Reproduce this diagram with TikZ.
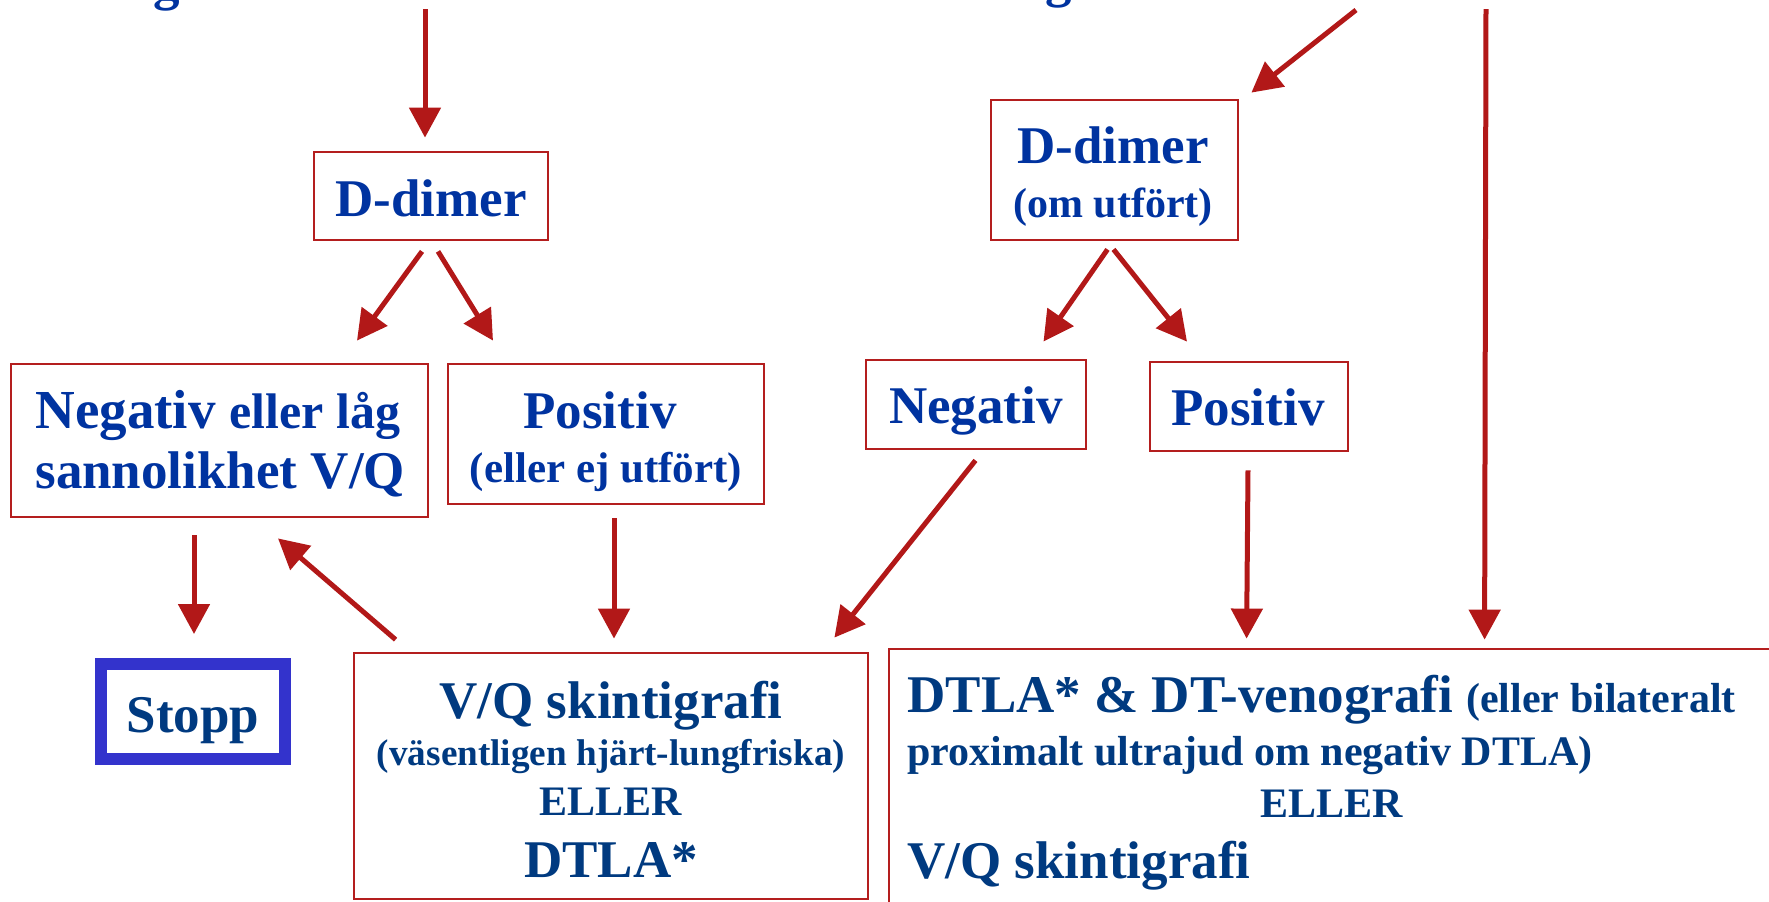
\documentclass[tikz,border=0pt]{standalone}
\usepackage{fontspec}
\setmainfont{Liberation Serif}
\usetikzlibrary{arrows.meta,fit}
\definecolor{ared}{RGB}{178,24,24}
\definecolor{bred}{RGB}{180,30,30}
\definecolor{tblue}{RGB}{0,51,160}
\definecolor{tnavy}{RGB}{0,58,128}
\definecolor{sblue}{RGB}{51,51,204}
\newcommand\fsz[1]{\fontsize{#1}{#1}\selectfont}
\begin{document}
\begin{tikzpicture}[x=0.5pt,y=-0.5pt,
  rbox/.style={draw=bred,line width=1.4pt,inner sep=0pt},
  sbox/.style={draw=sblue,line width=6pt,inner sep=0pt},
  arr/.style={draw=ared,line width=2.5pt,-{Triangle[length=15pt,width=15.5pt]}},
  tx/.style={inner sep=0pt,anchor=base,text=tblue,font=\bfseries\fsz{26.5}},
  tn/.style={inner sep=0pt,anchor=base,text=tnavy,font=\bfseries\fsz{26.5}},
]
\useasboundingbox (0,0) rectangle (1769,901);
\clip (0,0) rectangle (1769,901);

% cut-off text fragments at the top
\node[tx] (g1) at (167,-1) {g};
\node[tx] (g2) at (1059,-4) {g};

% boxes
\node[rbox,fit={(314,152)(548,240)}] (dimL) {};
\node[rbox,fit={(11,364)(428,517)}] (negL) {};
\node[rbox,fit={(448,364)(764,504)}] (posL) {};
\node[sbox,fit={(101,664)(285,759)}] (stopp) {};
\node[rbox,fit={(354,653)(868,899)}] (vqL) {};
\node[rbox,fit={(991,100)(1238,240)}] (dimR) {};
\node[rbox,fit={(866,360)(1086,449)}] (negR) {};
\node[rbox,fit={(1150,362)(1348,451)}] (posR) {};
\node[rbox,fit={(889,649)(1800,960)}] (bigR) {};

% texts
\node[tx] (tdimL) at (431,216) {D-dimer};
\node[tx,anchor=base west] (tnegL1) at (35,428) {\fsz{27.5}Negativ {\fsz{25}eller låg}};
\node[tx,anchor=base west] (tnegL2) at (35,488) {sannolikhet V/Q};
\node[tx] (tposL1) at (600,428) {Positiv};
\node[tx,font=\bfseries\fsz{21.5}] (tposL2) at (606,482) {(eller ej utfört)};
\node[tn] (tstopp) at (193,732) {Stopp};
\node[tn] (tvq1) at (611,718) {V/Q skintigrafi};
\node[tn,font=\bfseries\fsz{18.6}] (tvq2) at (611,765) {(väsentligen hjärt-lungfriska)};
\node[tn,font=\bfseries\fsz{21}] (tvq3) at (611,815) {ELLER};
\node[tn] (tvq4) at (611,877) {DTLA*};
\node[tx] (tdimR1) at (1113,163) {D-dimer};
\node[tx,font=\bfseries\fsz{21}] (tdimR2) at (1113,217) {(om utfört)};
\node[tx] (tnegR) at (976,423) {Negativ};
\node[tx] (tposR) at (1248,425) {Positiv};
\node[tn,anchor=base west] (tbig1) at (907,712) {DTLA* \& DT-venografi {\fsz{21}(eller bilateralt}};
\node[tn,anchor=base west,font=\bfseries\fsz{21}] (tbig2) at (907,765) {proximalt ultrajud om negativ DTLA)};
\node[tn,font=\bfseries\fsz{21}] (tbig3) at (1332,817) {ELLER};
\node[tn,anchor=base west] (tbig4) at (907,878) {V/Q skintigrafi};

% free starts
\coordinate (c1) at (425,9);
\coordinate (c2) at (1356,10);
\coordinate (c3) at (1486,9);

% connectors
\draw[arr] (c1) -- ([shift={(-6,-13)}]dimL.north);
\draw[arr] ([shift={(-9,10)}]dimL.south) -- ([shift={(137.5,-22)}]negL.north);
\draw[arr] ([shift={(7,10)}]dimL.south) -- ([shift={(-113,-22)}]posL.north);
\draw[arr] ([shift={(-25.5,17)}]negL.south) -- ([shift={(1,-24)}]stopp.north);
\draw[arr] ([shift={(8,13)}]posL.south) -- ([shift={(3,-13)}]vqL.north);
\draw[arr] ([shift={(43,-12)}]vqL.north west) -- ([shift={(58.5,20)}]negL.south);
\draw[arr] (c2) -- ([shift={(12,-6)}]dimR.north east);
\draw[arr] ([shift={(-7,8)}]dimR.south) -- ([shift={(67.5,-17)}]negR.north);
\draw[arr] ([shift={(-1,8)}]dimR.south) -- ([shift={(-62,-19)}]posR.north);
\draw[arr] ([shift={(-0.5,10)}]negR.south) -- ([shift={(-35,-14)}]vqL.north east);
\draw[arr] ([shift={(-1,18)}]posR.south) -- ([shift={(359,-9)}]bigR.north west);
\draw[arr] (c3) -- ([shift={(597,-8)}]bigR.north west);
\end{tikzpicture}
\end{document}
